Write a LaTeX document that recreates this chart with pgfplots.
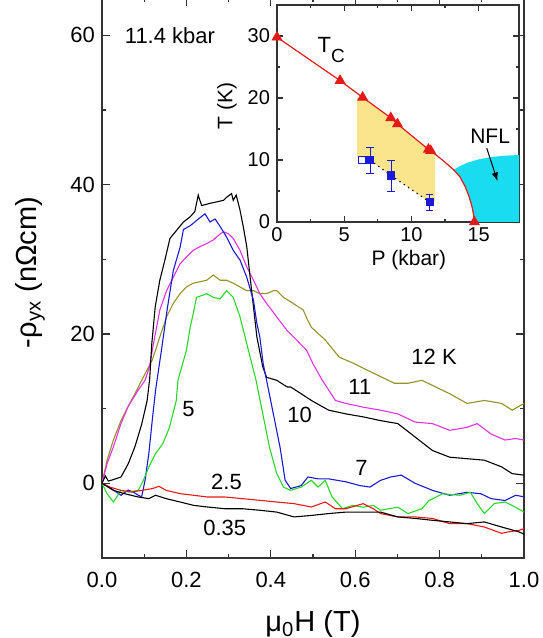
\documentclass[border=0pt]{standalone}
\usepackage{pgfplots}
\pgfplotsset{compat=1.18}
\usepackage{fontspec}
\setmainfont{Liberation Sans}
\usetikzlibrary{calc}

\definecolor{colK}{RGB}{0,0,0}
\definecolor{colR}{RGB}{230,25,25}
\definecolor{colG}{RGB}{40,215,40}
\definecolor{colB}{RGB}{25,25,215}
\definecolor{colM}{RGB}{225,50,225}
\definecolor{colO}{RGB}{150,145,40}
\definecolor{yel}{RGB}{250,228,140}
\definecolor{cyn}{RGB}{25,220,240}

\newcommand{\fs}{\fontsize{11}{13}\selectfont}

\begin{document}
\begin{tikzpicture}
\begin{axis}[
    name=main,
    scale only axis,
    width=211pt, height=280pt,
    xmin=0, xmax=1, ymin=-10, ymax=65,
    xtick={0,0.2,0.4,0.6,0.8,1},
    ytick={0,20,40,60},
    minor x tick num=1, minor y tick num=1,
    tick align=inside,
    major tick length=4pt, minor tick length=2pt,
    axis line style={line width=0.7pt, black!80},
    every tick/.style={black!80, line width=0.6pt},
    /pgf/number format/assume math mode=true,
    tick label style={font=\fs},
    xticklabel style={/pgf/number format/fixed, /pgf/number format/fixed zerofill,
        /pgf/number format/precision=1, anchor=base, yshift=-14.5pt},
    label style={font=\fontsize{14.5}{16}\selectfont},
    xlabel={μ\textsubscript{0}H (T)},
    ylabel={-ρ\textsubscript{yx} (nΩcm)},
    xlabel style={at={(axis description cs:0.5,-0.1321)}, anchor=base},
    ylabel style={at={(axis description cs:-0.1706,0.51)}, anchor=center},
    every axis plot/.append style={line width=0.55pt, mark=none},
]
% 12 K
\addplot[colO] coordinates {
(0,0) (0.012,3.1) (0.027,5.8) (0.045,8.4) (0.062,10.3) (0.078,12.0) (0.094,13.8)
(0.119,16.5) (0.137,19.6) (0.153,22.3) (0.169,24.1) (0.185,25.4) (0.2,26.3)
(0.216,26.8) (0.232,27.0) (0.248,27.2) (0.264,27.9) (0.28,27.2) (0.295,27.2)
(0.311,26.8) (0.327,26.3) (0.343,25.8) (0.359,25.8) (0.374,25.4) (0.39,25.4)
(0.406,25.8) (0.414,25.8) (0.43,24.9) (0.453,24.1) (0.477,23.2) (0.487,21.9)
(0.496,20.9) (0.529,19.2) (0.562,16.9) (0.595,16.1) (0.627,15.2) (0.66,14.3)
(0.693,13.4) (0.725,13.4) (0.758,13.8) (0.791,12.9) (0.824,12.0) (0.865,10.7)
(0.906,11.1) (0.947,10.7) (0.972,9.8) (1.0,10.7)};
% 11 K
\addplot[colM] coordinates {
(0,0) (0.012,2.6) (0.027,4.9) (0.045,8.0) (0.062,10.3) (0.086,12.5) (0.102,13.8)
(0.112,15.5) (0.122,18.7) (0.137,23.2) (0.153,25.8) (0.169,27.6) (0.185,29.4)
(0.2,30.3) (0.216,31.2) (0.232,31.7) (0.248,32.1) (0.264,32.6) (0.28,33.4)
(0.288,33.7) (0.3,33.4) (0.311,32.8) (0.327,31.2) (0.343,29.0) (0.359,27.2)
(0.374,25.4) (0.39,24.1) (0.414,22.3) (0.438,20.5) (0.461,19.2) (0.485,17.8)
(0.50,16.0) (0.52,14.0) (0.545,11.8) (0.553,11.1) (0.578,10.7) (0.619,10.2)
(0.66,9.8) (0.701,9.3) (0.742,8.2) (0.783,8.0) (0.824,7.1) (0.865,7.5)
(0.889,8.0) (0.922,6.6) (0.955,5.8) (0.98,6.0) (1.0,5.8)};
% 10 K
\addplot[colK] coordinates {
(0,0) (0.008,1.0) (0.015,0.3) (0.027,0.5) (0.045,0.85) (0.062,2.6) (0.078,4.9)
(0.094,7.9) (0.107,11.1) (0.113,14.0) (0.118,18.7) (0.126,23.6) (0.137,27.2)
(0.149,29.9) (0.161,32.8) (0.177,33.9) (0.193,35.0) (0.209,35.7) (0.22,36.4)
(0.228,38.6) (0.236,37.2) (0.256,37.5) (0.272,37.7) (0.288,37.9) (0.295,38.3)
(0.307,38.8) (0.311,37.9) (0.318,38.6) (0.327,36.6) (0.335,34.3) (0.343,31.7)
(0.351,27.6) (0.359,23.6) (0.367,19.6) (0.381,15.6) (0.39,14.2) (0.414,13.8)
(0.439,12.9) (0.447,12.9) (0.472,12.0) (0.496,11.1) (0.537,9.8) (0.578,9.3)
(0.619,8.9) (0.66,8.4) (0.701,8.0) (0.742,6.2) (0.783,4.4) (0.824,3.5)
(0.865,3.3) (0.906,3.1) (0.947,2.2) (0.972,1.3) (1.0,1.1)};
% 7 K
\addplot[colB] coordinates {
(0,0) (0.018,-0.5) (0.027,-0.9) (0.045,-1.6) (0.062,-0.9) (0.075,-1.2) (0.086,-1.6)
(0.094,-1.8) (0.102,0.4) (0.111,4.0) (0.119,8.4) (0.127,12.5) (0.14,17.5)
(0.155,23.5) (0.169,28.5) (0.185,31.6) (0.193,34.0) (0.209,34.5) (0.224,35.2)
(0.244,36.1) (0.256,35.0) (0.268,35.4) (0.28,34.4) (0.295,33.0) (0.311,31.2)
(0.327,29.9) (0.343,27.6) (0.359,24.5) (0.367,21.4) (0.374,19.6) (0.382,16.0)
(0.39,13.8) (0.406,9.3) (0.422,4.8) (0.434,0.4) (0.447,-0.7) (0.472,-0.3)
(0.488,0.85) (0.512,0.6) (0.537,0.6) (0.578,0.2) (0.611,-0.3) (0.635,-0.5)
(0.66,0.4) (0.684,0.85) (0.709,1.1) (0.742,0.0) (0.783,-0.94) (0.824,-1.6)
(0.865,-1.2) (0.898,-1.4) (0.922,-2.05) (0.955,-2.3) (0.98,-1.6) (1.0,-1.8)};
% 5 K
\addplot[colG] coordinates {
(0,0) (0.012,-1.4) (0.027,-2.5) (0.045,-0.94) (0.062,-1.16) (0.086,-0.94)
(0.098,0.4) (0.111,2.2) (0.127,4.0) (0.144,5.3) (0.16,7.5) (0.168,9.3)
(0.176,11.1) (0.18,13.8) (0.2,17.8) (0.209,20.9) (0.216,22.7) (0.224,24.9)
(0.248,25.4) (0.264,24.9) (0.28,24.7) (0.295,25.8) (0.311,24.9) (0.327,22.3)
(0.339,19.6) (0.347,17.8) (0.365,13.8) (0.381,9.3) (0.397,4.8) (0.414,1.3)
(0.43,-0.5) (0.447,-0.94) (0.472,-0.5) (0.496,0.4) (0.512,-0.5) (0.529,0.4)
(0.545,-1.8) (0.57,-3.4) (0.594,-2.95) (0.619,-3.2) (0.643,-2.95) (0.66,-3.6)
(0.701,-3.2) (0.725,-4.05) (0.758,-3.4) (0.775,-2.3) (0.807,-1.4) (0.848,-1.6)
(0.873,-1.2) (0.889,-2.7) (0.906,-4.05) (0.93,-2.7) (0.955,-2.5) (0.98,-3.2)
(1.0,-3.85)};
% 2.5 K
\addplot[colR] coordinates {
(0,0) (0.018,-0.49) (0.045,-0.94) (0.07,-1.16) (0.094,-0.94) (0.119,-0.71)
(0.135,-0.4) (0.152,-0.94) (0.185,-1.38) (0.217,-1.6) (0.25,-1.83) (0.291,-1.83)
(0.332,-2.05) (0.373,-2.27) (0.414,-2.5) (0.455,-2.72) (0.496,-3.17) (0.529,-2.5)
(0.553,-3.4) (0.578,-3.4) (0.619,-2.72) (0.643,-3.4) (0.66,-4.05) (0.701,-4.5)
(0.742,-4.5) (0.783,-4.7) (0.824,-5.4) (0.865,-5.4) (0.906,-5.85) (0.947,-6.7)
(0.963,-6.5) (0.988,-6.3) (1.0,-6.06)};
% 0.35 K
\addplot[colK] coordinates {
(0,0) (0.027,-0.94) (0.053,-1.38) (0.086,-1.83) (0.111,-2.05) (0.127,-1.6)
(0.152,-2.05) (0.185,-2.5) (0.217,-2.95) (0.25,-3.17) (0.291,-3.4) (0.332,-3.4)
(0.373,-3.6) (0.414,-3.85) (0.455,-4.5) (0.496,-4.3) (0.537,-4.05) (0.578,-3.85)
(0.619,-3.85) (0.66,-3.85) (0.701,-4.5) (0.742,-4.7) (0.783,-4.95) (0.824,-5.17)
(0.865,-5.4) (0.906,-5.17) (0.947,-5.85) (0.988,-6.5) (1.0,-6.8)};

\node[font=\fs] at (axis cs:0.161,60.0) {11.4 kbar};
\node[font=\fs] at (axis cs:0.787,16.9) {12 K};
\node[font=\fs] at (axis cs:0.611,12.9) {11};
\node[font=\fs] at (axis cs:0.468,9.1) {10};
\node[font=\fs] at (axis cs:0.205,10.0) {5};
\node[font=\fs] at (axis cs:0.615,2.0) {7};
\node[font=\fs] at (axis cs:0.295,0.2) {2.5};
\node[font=\fs] at (axis cs:0.291,-6.0) {0.35};
\end{axis}

\begin{axis}[
    name=inset,
    at={($(main.south west)+(87.5pt,168pt)$)}, anchor=south west,
    scale only axis,
    width=121pt, height=108.5pt,
    xmin=0, xmax=18, ymin=0, ymax=35,
    xtick={0,5,10,15}, ytick={0,10,20,30},
    minor x tick num=1, minor y tick num=1,
    tick align=inside,
    major tick length=3pt, minor tick length=1.5pt,
    axis line style={line width=0.7pt, black!80},
    every tick/.style={black!80, line width=0.6pt},
    axis background/.style={fill=white},
    /pgf/number format/assume math mode=true,
    tick label style={font=\fontsize{10}{12}\selectfont},
    xticklabel style={anchor=base, yshift=-10pt},
    label style={font=\fontsize{10.5}{12}\selectfont},
    xlabel={P (kbar)}, ylabel={T (K)},
    xlabel style={at={(axis description cs:0.545,-0.2028)}, anchor=base},
    ylabel style={at={(axis description cs:-0.2066,0.535)}, anchor=center},
]
% ordered region
\addplot[fill=yel, draw=none] coordinates {
(5.95,20.1) (6.37,20.1) (8.46,16.8) (8.96,15.8) (11.26,11.7) (11.43,11.5) (11.76,10.95)
(11.76,3.3) (11.37,3.2) (8.48,7.5) (6.92,10.0) (5.95,10.6) (5.95,20.1)};
% NFL region
\addplot[fill=cyn, draw=none] coordinates {
(13.15,8.45) (13.6,9.0) (14.2,9.6) (15.0,10.1) (16.0,10.5) (17.0,10.7) (18,10.8)
(18,0) (14.68,0) (14.62,1.2) (14.5,2.5) (14.3,4.0) (14.0,5.6) (13.6,7.3) (13.15,8.45)};
% Tc line
\addplot[colR, line width=0.6pt, mark=none] coordinates {
(0,29.8) (4.69,22.8) (6.37,20.1) (8.46,16.8) (8.96,15.8) (11.26,11.7) (11.43,11.5)
(12.3,10.0) (13.1,8.5) (13.6,7.3) (14.0,5.7) (14.3,4.0) (14.5,2.5) (14.62,1.2) (14.68,0)};
\addplot[colR, only marks, mark=triangle*, mark size=2.8pt] coordinates {
(0,29.8) (4.69,22.8) (6.37,20.1) (8.46,16.8) (8.96,15.8) (11.26,11.7) (11.43,11.5) (14.68,0)};
% dotted guide
\addplot[black, dotted, line width=0.6pt, mark=none] coordinates {
(6.92,10.0) (8.48,7.5) (11.37,3.2)};
\addplot[colB, only marks, mark=square*, mark size=1.8pt,
    error bars/.cd, y dir=both, y explicit, error bar style={line width=0.5pt}]
coordinates {(6.92,10.0) +- (0,2.1) (8.48,7.5) +- (0,2.5) (11.37,3.2) +- (0,1.3)};
\addplot[colB, only marks, mark=square, mark size=1.8pt, mark options={fill=white, line width=0.6pt}]
coordinates {(6.32,9.95)};

\node[anchor=base west, inner sep=0pt, font=\fontsize{11}{13}\selectfont]
    at (axis cs:3.0,27.3) {T\raisebox{-5pt}{\fontsize{9.5}{11}\selectfont C}};
\node[font=\fontsize{10.5}{12}\selectfont] at (axis cs:15.85,13.9) {NFL};
\draw[-latex, line width=0.5pt] (axis cs:15.6,11.9) -- (axis cs:16.4,6.6);
\end{axis}

\pgfresetboundingbox
\path ($(main.south west)+(-51pt,-40pt)$) rectangle ($(main.north east)+(9pt,-1pt)$);
\end{tikzpicture}
\end{document}
